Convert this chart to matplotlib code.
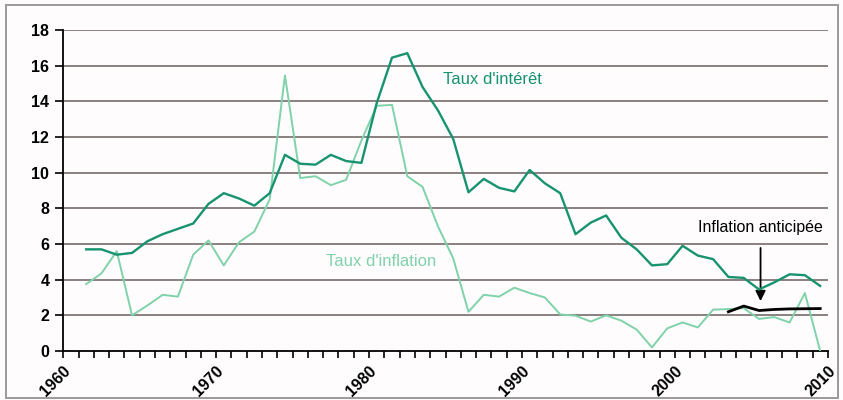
import matplotlib
matplotlib.use("Agg")
import matplotlib.pyplot as plt
from matplotlib.patches import Rectangle
from matplotlib import font_manager

years = list(range(1961, 2010))
taux_interet = [5.7, 5.7, 5.4, 5.5, 6.15, 6.55, 6.85, 7.15, 8.25, 8.85,
                8.55, 8.15, 8.85, 11.0, 10.5, 10.45, 11.0, 10.65, 10.55, 13.9,
                16.45, 16.7, 14.8, 13.5, 11.9, 8.9, 9.65, 9.15, 8.95, 10.15,
                9.4, 8.85, 6.55, 7.2, 7.6, 6.35, 5.7, 4.8, 4.87, 5.9,
                5.35, 5.15, 4.15, 4.1, 3.45, 3.85, 4.3, 4.25, 3.65]
taux_inflation = [3.75, 4.35, 5.6, 2.0, 2.55, 3.15, 3.05, 5.4, 6.2, 4.8,
                  6.1, 6.7, 8.5, 15.45, 9.7, 9.8, 9.3, 9.6, 11.8, 13.75,
                  13.8, 9.8, 9.2, 7.0, 5.2, 2.2, 3.15, 3.05, 3.55, 3.25,
                  3.0, 2.05, 1.98, 1.65, 2.0, 1.7, 1.2, 0.2, 1.27, 1.6,
                  1.32, 2.32, 2.35, 2.4, 1.8, 1.9, 1.6, 3.25, 0.0]
annees_anticipee = list(range(2003, 2010))
inflation_anticipee = [2.2, 2.52, 2.27, 2.33, 2.36, 2.37, 2.38]

y_ticks = list(range(0, 19, 2))
x_ticks = [1960, 1970, 1980, 1990, 2000, 2010]

names = {f.name for f in font_manager.fontManager.ttflist}
fam = ['Liberation Sans Narrow', 'Liberation Sans', 'DejaVu Sans']
fam = [f for f in fam if f in names] or ['DejaVu Sans']
plt.rcParams['font.family'] = fam

dark = '#17936f'
light = '#80d2ab'

fig = plt.figure(figsize=(8.43, 4.0), dpi=100)
fig.patch.set_facecolor('#fefcfc')
fig.patches.append(Rectangle((0.007, 0.005), 0.987, 0.982, transform=fig.transFigure,
                             fill=False, edgecolor='#9a9a9a', linewidth=1.4))
ax = fig.add_axes([0.075, 0.1225, 0.907, 0.8025])
ax.set_facecolor('#fefcfc')

xi = [y + 0.5 for y in years]
xa = [y + 0.5 for y in annees_anticipee]
ax.plot(xi, taux_inflation, color=light, lw=1.4, zorder=3)
ax.plot(xi, taux_interet, color=dark, lw=1.7, zorder=4)
ax.plot(xa, inflation_anticipee, color='black', lw=2.0, zorder=5)

ax.set_xlim(1960, 2010)
ax.set_ylim(0, 18)
ax.set_yticks(y_ticks)
ax.set_yticklabels([str(v) for v in y_ticks], fontsize=11.5, fontweight='bold')
ax.set_xticks(x_ticks)
ax.set_xticks(range(1960, 2011), minor=True)
ax.set_xticklabels([str(v) for v in x_ticks], fontsize=11.5, fontweight='bold',
                   rotation=45, ha='right', va='top', rotation_mode='anchor')
ax.tick_params(axis='x', which='both', direction='out', length=5, width=1.2, pad=4)
ax.tick_params(axis='y', direction='out', length=6, width=1.2, pad=4)

for v in y_ticks[1:]:
    ax.axhline(v, color='#8a8080', lw=1.4, zorder=1)

for s in ['top', 'right']:
    ax.spines[s].set_visible(False)
ax.spines['left'].set_linewidth(1.3)
ax.spines['bottom'].set_linewidth(1.3)

ax.text(1988.1, 15.2, "Taux d'intérêt", color=dark, fontsize=12, ha='center', va='center')
ax.text(1980.8, 5.0, "Taux d'inflation", color=light, fontsize=12, ha='center', va='center')
ax.annotate("Inflation anticipée", xy=(2005.6, 2.8), xytext=(2005.6, 6.9),
            fontsize=11.5, fontweight='medium', ha='center', va='center',
            arrowprops=dict(arrowstyle='-|>', color='black', lw=1.3, mutation_scale=15,
                            shrinkA=7, shrinkB=0))

fig.savefig('out.png', dpi=100, facecolor=fig.get_facecolor())
